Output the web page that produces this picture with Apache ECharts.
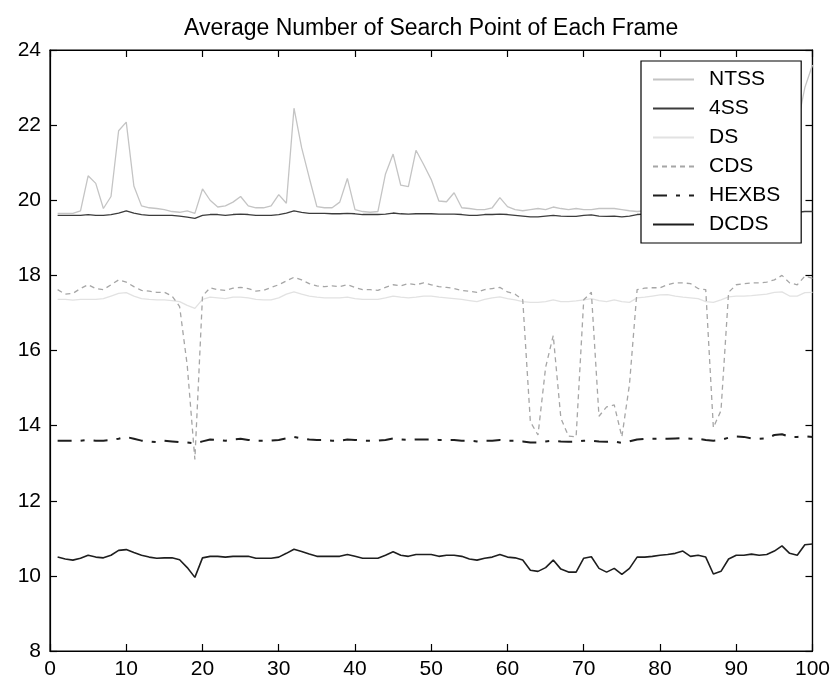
<!DOCTYPE html>
<html>
<head>
<meta charset="utf-8">
<script src="https://cdn.jsdelivr.net/npm/echarts@6/dist/echarts.min.js"></script>
<style>html,body{margin:0;padding:0;background:#fff;}#c{width:833px;height:686px;}</style>
</head>
<body>
<div id="c"></div>
<script>
var titleText = 'Average Number of Search Point of Each Frame';
var seriesNames = ['NTSS', '4SS', 'DS', 'CDS', 'HEXBS', 'DCDS'];
var xTicks = [0, 10, 20, 30, 40, 50, 60, 70, 80, 90, 100];
var yTicks = [8, 10, 12, 14, 16, 18, 20, 22, 24];

var NTSS = [19.65,19.65,19.65,19.72,20.65,20.45,19.78,20.10,21.85,22.08,
            20.38,19.85,19.80,19.78,19.75,19.70,19.68,19.72,19.65,20.30,
            20.00,19.82,19.85,19.95,20.10,19.85,19.80,19.80,19.85,20.15,
            19.92,22.45,21.40,20.60,19.83,19.80,19.80,19.95,20.58,19.75,
            19.70,19.68,19.70,20.70,21.23,20.40,20.36,21.33,20.95,20.55,
            19.98,19.96,20.20,19.80,19.78,19.75,19.75,19.80,20.07,19.83,
            19.75,19.72,19.75,19.78,19.75,19.82,19.78,19.75,19.78,19.75,
            19.75,19.78,19.78,19.78,19.75,19.72,19.70,19.72,19.70,19.72,
            19.75,19.72,19.75,19.72,19.70,19.72,19.70,19.72,19.75,19.72,
            19.75,19.72,19.75,19.72,19.70,19.72,19.75,22.00,23.00,23.60];
var SS4 = [19.60,19.60,19.60,19.60,19.62,19.60,19.60,19.62,19.66,19.72,
           19.66,19.62,19.60,19.60,19.60,19.60,19.58,19.55,19.52,19.60,
           19.62,19.62,19.60,19.62,19.63,19.62,19.60,19.60,19.60,19.62,
           19.66,19.72,19.68,19.65,19.65,19.65,19.64,19.64,19.65,19.64,
           19.62,19.62,19.62,19.63,19.66,19.64,19.63,19.64,19.64,19.64,
           19.63,19.63,19.63,19.62,19.60,19.60,19.62,19.62,19.63,19.62,
           19.60,19.58,19.56,19.56,19.58,19.60,19.58,19.57,19.57,19.60,
           19.61,19.58,19.57,19.58,19.56,19.58,19.62,19.63,19.64,19.65,
           19.65,19.66,19.67,19.65,19.65,19.64,19.62,19.63,19.66,19.68,
           19.67,19.66,19.66,19.67,19.70,19.71,19.68,19.68,19.70,19.70];
var DS = [17.36,17.36,17.34,17.36,17.36,17.36,17.38,17.45,17.52,17.54,
          17.45,17.38,17.36,17.35,17.35,17.33,17.30,17.20,17.12,17.36,
          17.42,17.40,17.38,17.42,17.42,17.40,17.36,17.35,17.35,17.40,
          17.50,17.56,17.50,17.45,17.42,17.40,17.40,17.40,17.42,17.38,
          17.36,17.36,17.36,17.40,17.45,17.42,17.40,17.42,17.45,17.45,
          17.42,17.40,17.38,17.36,17.33,17.30,17.36,17.40,17.43,17.38,
          17.35,17.30,17.28,17.28,17.30,17.35,17.30,17.30,17.32,17.35,
          17.38,17.33,17.30,17.35,17.30,17.28,17.40,17.42,17.45,17.48,
          17.49,17.45,17.42,17.40,17.38,17.30,17.28,17.35,17.43,17.45,
          17.45,17.46,17.48,17.50,17.55,17.56,17.45,17.45,17.54,17.55];
var CDS = [17.62,17.50,17.52,17.65,17.75,17.65,17.62,17.75,17.88,17.82,
           17.70,17.60,17.58,17.55,17.55,17.45,17.17,15.60,13.10,17.45,
           17.67,17.62,17.60,17.66,17.68,17.65,17.58,17.60,17.68,17.75,
           17.85,17.95,17.88,17.78,17.72,17.70,17.72,17.70,17.75,17.68,
           17.62,17.62,17.60,17.68,17.75,17.72,17.78,17.75,17.80,17.75,
           17.70,17.68,17.65,17.60,17.58,17.55,17.62,17.65,17.68,17.56,
           17.50,17.35,14.10,13.75,15.55,16.40,14.20,13.72,13.70,17.35,
           17.55,14.25,14.50,14.55,13.70,15.10,17.62,17.66,17.67,17.67,
           17.75,17.80,17.80,17.78,17.65,17.62,13.95,14.40,17.55,17.75,
           17.78,17.80,17.80,17.82,17.88,18.00,17.80,17.75,17.98,17.92];
var HEXBS = [13.60,13.60,13.60,13.60,13.62,13.60,13.60,13.62,13.65,13.70,
             13.65,13.60,13.58,13.56,13.60,13.58,13.56,13.55,13.53,13.58,
             13.63,13.62,13.60,13.63,13.65,13.62,13.60,13.60,13.60,13.62,
             13.66,13.70,13.66,13.63,13.62,13.62,13.60,13.60,13.63,13.62,
             13.60,13.60,13.60,13.62,13.66,13.63,13.62,13.63,13.63,13.63,
             13.62,13.62,13.62,13.60,13.60,13.58,13.60,13.60,13.62,13.60,
             13.60,13.58,13.55,13.55,13.58,13.60,13.58,13.57,13.57,13.60,
             13.60,13.58,13.57,13.58,13.54,13.58,13.63,13.65,13.65,13.65,
             13.65,13.66,13.67,13.65,13.65,13.62,13.60,13.62,13.68,13.71,
             13.70,13.66,13.65,13.66,13.75,13.77,13.70,13.70,13.72,13.70];
var DCDS = [10.50,10.45,10.42,10.47,10.55,10.50,10.48,10.55,10.68,10.70,
            10.62,10.55,10.50,10.47,10.48,10.48,10.43,10.22,9.96,10.48,
            10.52,10.52,10.50,10.52,10.52,10.52,10.47,10.47,10.47,10.50,
            10.60,10.71,10.65,10.58,10.52,10.52,10.52,10.52,10.57,10.52,
            10.47,10.47,10.47,10.55,10.64,10.55,10.52,10.57,10.57,10.57,
            10.52,10.55,10.55,10.52,10.45,10.42,10.47,10.50,10.57,10.50,
            10.48,10.42,10.15,10.12,10.22,10.42,10.18,10.10,10.10,10.47,
            10.51,10.20,10.10,10.20,10.04,10.20,10.50,10.50,10.52,10.55,
            10.57,10.60,10.66,10.52,10.55,10.50,10.05,10.12,10.45,10.55,
            10.55,10.58,10.55,10.57,10.66,10.80,10.60,10.55,10.83,10.85];

var frames = NTSS.map(function (v, i) { return i + 1; });
function pairs(arr) { return arr.map(function (v, i) { return [frames[i], v]; }); }

var values = [NTSS, SS4, DS, CDS, HEXBS, DCDS];
var styles = [
  {color: '#c4c4c4', width: 1.3, type: 'solid'},
  {color: '#3c3c3c', width: 1.3, type: 'solid'},
  {color: '#e2e2e2', width: 1.3, type: 'solid'},
  {color: '#a6a6a6', width: 1.3, type: [5, 4]},
  {color: '#1e1e1e', width: 2, type: [14, 9, 4, 9]},
  {color: '#1e1e1e', width: 1.6, type: 'solid'}
];

var FONT = '"Liberation Sans", Arial, sans-serif';
var chart = echarts.init(document.getElementById('c'), null, {renderer: 'canvas'});
var series = seriesNames.map(function (name, k) {
  return {
    name: name, type: 'line', data: pairs(values[k]),
    symbol: 'none', showSymbol: false, xAxisIndex: 0, yAxisIndex: 0,
    lineStyle: styles[k], itemStyle: {color: styles[k].color},
    z: 2 + k, silent: true
  };
});

var tickLen = 7;
chart.setOption({
  animation: false,
  backgroundColor: '#fff',
  title: {
    text: titleText, left: 179, top: 12,
    textStyle: {fontFamily: FONT, fontSize: 23, fontWeight: 'normal', color: '#000'}
  },
  grid: {left: 50, right: 20, top: 50, bottom: 35, show: true, borderColor: '#000', borderWidth: 1.2, backgroundColor: 'transparent'},
  legend: {
    data: seriesNames, orient: 'vertical', left: 641, top: 61,
    padding: [8, 21, 8, 11], itemGap: 8, itemWidth: 41, itemHeight: 14,
    backgroundColor: '#fff', borderColor: '#000', borderWidth: 1.2, borderRadius: 0,
    itemStyle: {opacity: 0},
    textStyle: {fontFamily: FONT, fontSize: 21, color: '#000', lineHeight: 20, padding: [0, 0, 0, 10]},
    z: 20, selectedMode: false
  },
  xAxis: [{
    type: 'value', min: 0, max: 100, interval: 10, position: 'bottom',
    axisLine: {show: true, onZero: false, lineStyle: {color: '#000', width: 1.2}},
    axisTick: {show: true, inside: true, length: tickLen, lineStyle: {color: '#000', width: 1.2}},
    axisLabel: {margin: 8, fontFamily: FONT, fontSize: 21, color: '#000'},
    splitLine: {show: false}
  }, {
    type: 'value', min: 0, max: 100, interval: 10, position: 'top',
    axisLine: {show: true, onZero: false, lineStyle: {color: '#000', width: 1.2}},
    axisTick: {show: true, inside: true, length: tickLen, lineStyle: {color: '#000', width: 1.2}},
    axisLabel: {show: false}, splitLine: {show: false}
  }],
  yAxis: [{
    type: 'value', min: 8, max: 24, interval: 2, position: 'left',
    axisLine: {show: true, onZero: false, lineStyle: {color: '#000', width: 1.2}},
    axisTick: {show: true, inside: true, length: tickLen, lineStyle: {color: '#000', width: 1.2}},
    axisLabel: {margin: 9, fontFamily: FONT, fontSize: 21, color: '#000'},
    splitLine: {show: false}
  }, {
    type: 'value', min: 8, max: 24, interval: 2, position: 'right',
    axisLine: {show: true, onZero: false, lineStyle: {color: '#000', width: 1.2}},
    axisTick: {show: true, inside: true, length: tickLen, lineStyle: {color: '#000', width: 1.2}},
    axisLabel: {show: false}, splitLine: {show: false}
  }],
  series: series
});
</script>
</body>
</html>
